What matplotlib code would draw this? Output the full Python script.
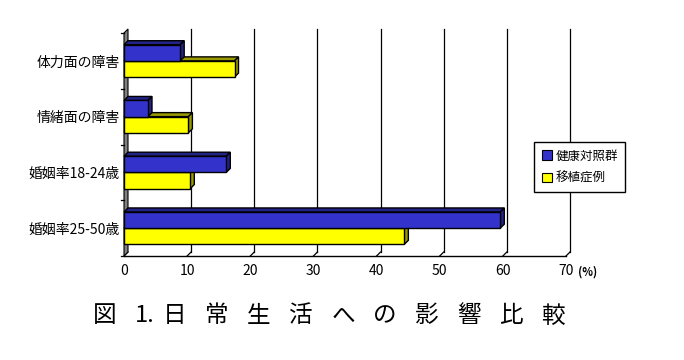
import matplotlib
matplotlib.use('Agg')
from matplotlib import pyplot as plt
from matplotlib.patches import Polygon, Patch

plt.rcParams['font.family'] = ['Noto Sans CJK JP', 'DejaVu Sans']

# data
categories = ['体力面の障害', '情緒面の障害', '婚姻率18-24歳', '婚姻率25-50歳']
control = [8.9, 3.8, 16.2, 59.6]      # 健康対照群
transplant = [17.5, 10.2, 10.5, 44.4]  # 移植症例
series_names = ['健康対照群', '移植症例']
xticks = [0, 10, 20, 30, 40, 50, 60, 70]
title_chars = ['図', '1.', '日', '常', '生', '活', 'へ', 'の', '影', '響', '比', '較']

W, H = 684, 360
fig = plt.figure(figsize=(W / 100, H / 100), dpi=100)
ax = fig.add_axes([124 / W, 1 - 256 / H, 442 / W, 223 / H])
ax.set_xlim(0, 70)
ax.set_ylim(-0.5, 3.5)

# 3d depth in data units (4 px)
dx = 4 * 70 / 442
dy = 4 * 4 / 223
bh = 0.29

def bar3d(y0, y1, v, front, dark, z):
    ax.add_patch(Polygon([(0, y1), (v, y1), (v + dx, y1 + dy), (dx, y1 + dy)],
                         closed=True, fc=dark, ec='black', lw=1, zorder=z, clip_on=False))
    ax.add_patch(Polygon([(v, y0), (v + dx, y0 + dy), (v + dx, y1 + dy), (v, y1)],
                         closed=True, fc=dark, ec='black', lw=1, zorder=z, clip_on=False))
    ax.add_patch(Polygon([(0, y0), (v, y0), (v, y1), (0, y1)],
                         closed=True, fc=front, ec='black', lw=1, zorder=z + 0.1, clip_on=False))

# back wall grid + floor
for t in xticks[1:]:
    ax.plot([t + dx, t + dx], [-0.5 + dy, 3.5 + dy], color='black', lw=0.9, zorder=1, clip_on=False)
for t in xticks:
    ax.plot([t, t + dx], [-0.5, -0.5 + dy], color='black', lw=0.9, zorder=1, clip_on=False)
ax.plot([0, 70], [-0.5, -0.5], color='black', lw=1, zorder=1, clip_on=False)

# left wall
ax.add_patch(Polygon([(0, -0.5), (dx, -0.5 + dy), (dx, 3.5 + dy), (0, 3.5)],
                     closed=True, fc='#808080', ec='black', lw=0.8, zorder=2, clip_on=False))
for b in [-0.5, 0.5, 1.5, 2.5, 3.5]:
    ax.plot([-0.45, 0], [b, b], color='black', lw=0.9, zorder=2, clip_on=False)

pos = [3, 2, 1, 0]
for p, a, b in zip(pos, control, transplant):
    bar3d(p - bh, p, b, '#FFFF00', '#999900', 3)
    bar3d(p, p + bh, a, '#3333CC', '#222288', 4)

ax.set_yticks(pos)
ax.set_yticklabels(categories, fontsize=10)
ax.set_xticks(xticks)
ax.set_xticklabels([str(t) for t in xticks], fontsize=10)
ax.tick_params(axis='y', length=0, pad=3)
ax.tick_params(axis='x', length=0, pad=6)
for s in ax.spines.values():
    s.set_visible(False)
ax.set_facecolor('none')

handles = [Patch(fc='#3333CC', ec='black', lw=0.8), Patch(fc='#FFFF00', ec='black', lw=0.8)]
leg = fig.legend(handles, series_names, loc='upper left',
                 bbox_to_anchor=(534 / W, 1 - 142 / H), fontsize=9,
                 handlelength=0.8, handleheight=0.8, handletextpad=0.3,
                 borderpad=0.6, labelspacing=0.75, borderaxespad=0,
                 fancybox=False, framealpha=1, edgecolor='black')
leg.get_frame().set_linewidth(1)

fig.text(578 / W, 1 - 272 / H, '(%)', fontsize=8, fontweight='bold', ha='left', va='center')

centers = [105, 145, 175, 217, 259, 301, 343, 385, 427, 469, 511, 553]
for ch, cx in zip(title_chars, centers):
    fig.text(cx / W, 1 - 316 / H, ch, fontsize=17, ha='center', va='center')

fig.savefig('out.png', dpi=100)
